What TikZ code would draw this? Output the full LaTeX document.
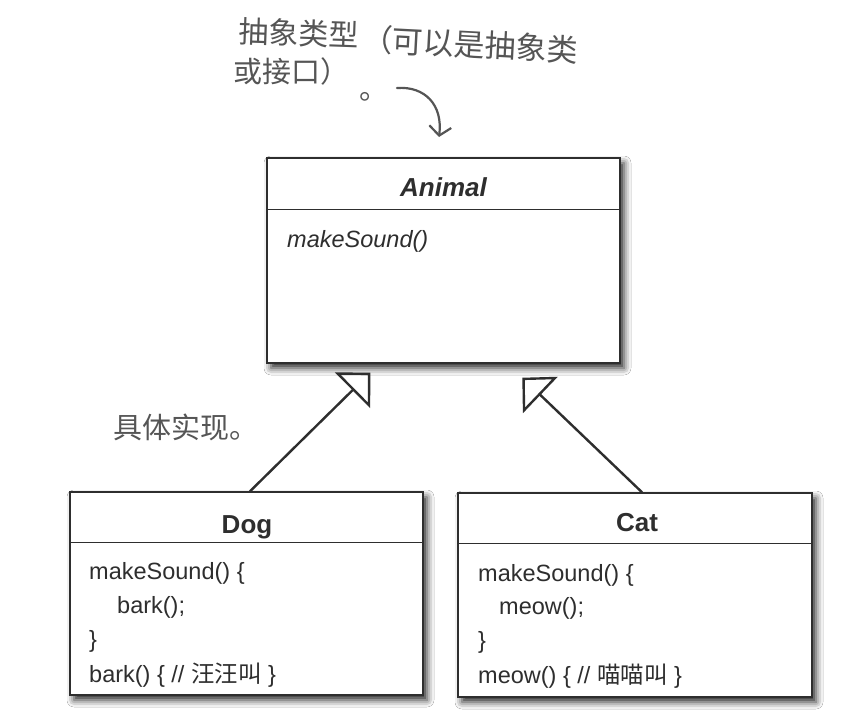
\documentclass[tikz,border=0pt]{standalone}
\usepackage{fontspec}
\setmainfont{Liberation Sans}
\newfontfamily\cjk{Noto Sans CJK SC}
\usetikzlibrary{arrows.meta,shadows.blur,calc}
\definecolor{ink}{HTML}{2E2E2E}
\definecolor{hand}{HTML}{555555}
\begin{document}
\begin{tikzpicture}[x=1pt,y=-1pt,
  umlbox/.style={draw=ink, line width=1.4pt, fill=white, inner sep=0pt,
    blur shadow={shadow xshift=4pt, shadow yshift=-5pt, shadow blur radius=7pt, shadow opacity=85}},
  title/.style={font=\fontsize{26}{30}\selectfont\bfseries, text=ink, anchor=base, inner sep=0pt},
  body/.style={font=\fontsize{23.5}{28}\selectfont, text=ink, anchor=base west, inner sep=0pt},
  divider/.style={draw=ink, line width=1.2pt},
  handnote/.style={font=\cjk\fontsize{29}{34}\selectfont, text=hand, inner sep=0pt, anchor=west,
    text height=0.72em, text depth=0.02em},
  inherit/.style={draw=ink, line width=2.4pt, line join=miter,
    -{Triangle[open, length=25pt, width=50pt]}},
  callout/.style={draw=hand, line width=2.2pt, line cap=round,
    -{Straight Barb[length=9pt, width=22pt]}}
]
\fill[white] (0,0) rectangle (851,726);
\useasboundingbox (0,0) rectangle (851,726);

% Animal
\node[umlbox, minimum width=353pt, minimum height=205pt] (animal) at (443.5,260.5) {};
\draw[divider] ($(animal.north west)+(0,52)$) -- ($(animal.north east)+(0,52)$);
\node[title] (animalname) at (443.5,196) {\itshape Animal};
\node[body] (animalop) at (287,247) {\itshape makeSound()};

% Dog
\node[umlbox, minimum width=353pt, minimum height=203pt] (dog) at (246.5,593.5) {};
\draw[divider] ($(dog.north west)+(0,51)$) -- ($(dog.north east)+(0,51)$);
\node[title] (dogname) at (247,533) {Dog};
\node[body] (dog1) at (89,579) {makeSound() \{};
\node[body] (dog2) at (117,613) {bark();};
\node[body] (dog3) at (89,647) {\}};
\node[body] (dog4) at (89,682) {bark() \{ // {\cjk 汪汪叫} \}};

% Cat
\node[umlbox, minimum width=354pt, minimum height=204pt] (cat) at (635,595) {};
\draw[divider] ($(cat.north west)+(0,51)$) -- ($(cat.north east)+(0,51)$);
\node[title] (catname) at (637,531) {Cat};
\node[body] (cat1) at (478,581) {makeSound() \{};
\node[body] (cat2) at (499,614) {meow();};
\node[body] (cat3) at (478,648) {\}};
\node[body] (cat4) at (478,683) {meow() \{ // {\cjk 喵喵叫} \}};

% inheritance arrows
\coordinate (tipL) at ($(animal.south west)+(104,9)$);
\coordinate (tipR) at ($(animal.south west)+(256,14)$);
\draw[inherit] ($(dog.north)+(3.5,0)$) -- (tipL);
\draw[inherit] ($(cat.north)+(7,0)$) -- (tipR);

% hand notes
\node[handnote, font=\cjk\fontsize{30}{36}\selectfont, rotate=-2] (note1a) at (238,39) {抽象类型};
\node[handnote, font=\cjk\fontsize{31}{36}\selectfont, rotate=-3] (note1b) at (361,47) {（可以是抽象类};
\node[handnote] (note2) at (233,79) {或接口）};
\node[handnote, anchor=base west] (note2dot) at (359,99) {。};
\node[handnote] (note3) at (113,435) {具体实现。};

\coordinate (cstart) at (397,88);
\coordinate (cend) at (439,137);
\draw[callout] (cstart) .. controls (425,86) and (443,105) .. (cend);
\end{tikzpicture}
\end{document}
